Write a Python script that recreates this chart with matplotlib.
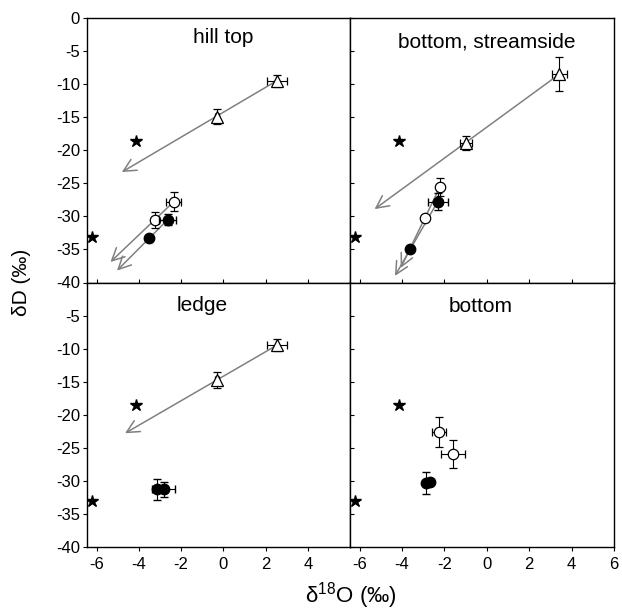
import matplotlib
matplotlib.use('Agg')
import matplotlib.pyplot as plt

plt.rcParams['font.family'] = ['Liberation Sans', 'DejaVu Sans']
plt.rcParams['axes.unicode_minus'] = False

# precipitation endmembers (stars), same in every panel
star_x = [-4.15, -6.2]
star_y = [-18.6, -33.1]

panel_names = ['hill top', 'bottom, streamside', 'ledge', 'bottom']
title_xy = [(0.0, -3.0), (0.0, -3.6), (-1.0, -3.5), (-0.3, -3.6)]

# triangles: x, y, xerr, yerr
tri_x = [[2.53, -0.3], [3.42, -0.99], [2.53, -0.3], []]
tri_y = [[-9.5, -14.9], [-8.5, -18.9], [-9.5, -14.7], []]
tri_xerr = [[0.47, 0.1], [0.36, 0.27], [0.47, 0.1], []]
tri_yerr = [[0.9, 1.2], [2.55, 1.0], [0.9, 1.2], []]

# open circles
oc_x = [[-2.35, -3.25], [-2.22, -2.93], [], [-2.24, -1.61]]
oc_y = [[-27.8, -30.5], [-25.6, -30.3], [], [-22.6, -25.9]]
oc_xerr = [[0.35, 0.1], [0.1, 0.1], [], [0.33, 0.57]]
oc_yerr = [[1.44, 1.2], [1.35, 0.3], [], [2.3, 2.1]]

# filled circles
fc_x = [[-2.63, -3.52], [-2.32, -3.64], [-3.12, -2.82], [-2.85, -2.7]]
fc_y = [[-30.5, -33.3], [-27.8, -35.0], [-31.3, -31.3], [-30.3, -30.2]]
fc_xerr = [[0.4, 0.1], [0.47, 0.1], [0.1, 0.53], [0.1, 0.1]]
fc_yerr = [[0.8, 0.3], [1.3, 0.3], [1.56, 1.1], [1.7, 0.3]]

# arrows: start -> tip
arrows = [
    [((2.53, -9.5), (-4.8, -23.3)), ((-2.35, -27.8), (-5.34, -36.9)), ((-2.63, -30.5), (-5.03, -38.2))],
    [((3.42, -8.5), (-5.29, -28.9)), ((-2.22, -25.6), (-4.06, -37.8)), ((-2.32, -27.8), (-4.33, -39.0))],
    [((2.53, -9.5), (-4.65, -22.8))],
    [],
]

xticks = [-6, -4, -2, 0, 2, 4, 6]
yticks = [0, -5, -10, -15, -20, -25, -30, -35, -40]

fig = plt.figure(figsize=(6.22, 6.11), dpi=100)
L, M, R = 87 / 622, 350 / 622, 614 / 622
T, C, B = 1 - 18 / 611, 1 - 282.5 / 611, 1 - 547 / 611
boxes = [[L, C, M - L, T - C], [M, C, R - M, T - C],
         [L, B, M - L, C - B], [M, B, R - M, C - B]]

for i, box in enumerate(boxes):
    ax = fig.add_axes(box)
    ax.set_xlim(-6.45, 6)
    ax.set_ylim(-40, 0)
    top = i < 2
    left = i % 2 == 0
    ax.set_xticks(xticks[:-1] if i == 2 else xticks)
    ax.set_yticks(yticks if top else yticks[1:])
    ax.tick_params(axis='x', direction='in' if top else 'out', length=3,
                   labelbottom=not top, labelsize=12, pad=4)
    ax.tick_params(axis='y', direction='out' if left else 'in', length=3,
                   labelleft=left, labelsize=12, pad=2)
    for s in ax.spines.values():
        s.set_linewidth(1.0)

    for (x0, y0), (x1, y1) in arrows[i]:
        ax.annotate('', xy=(x1, y1), xytext=(x0, y0),
                    arrowprops=dict(arrowstyle='->,head_length=0.5,head_width=0.25',
                                    color='#808080', lw=1.1,
                                    mutation_scale=18, shrinkA=0, shrinkB=0),
                    zorder=1)

    ax.plot(star_x, star_y, '*', color='black', ms=9, zorder=3)

    if tri_x[i]:
        ax.errorbar(tri_x[i], tri_y[i], xerr=tri_xerr[i], yerr=tri_yerr[i], fmt='^',
                    ms=8, mfc='white', mec='black', mew=0.9, ecolor='black',
                    elinewidth=0.8, capsize=3, zorder=4)
    if oc_x[i]:
        ax.errorbar(oc_x[i], oc_y[i], xerr=oc_xerr[i], yerr=oc_yerr[i], fmt='o',
                    ms=7.5, mfc='white', mec='black', mew=0.9, ecolor='black',
                    elinewidth=0.8, capsize=3, zorder=4)
    ax.errorbar(fc_x[i], fc_y[i], xerr=fc_xerr[i], yerr=fc_yerr[i], fmt='o',
                ms=7.5, mfc='black', mec='black', ecolor='black',
                elinewidth=0.8, capsize=3, zorder=5)

    tx, ty = title_xy[i]
    ax.text(tx, ty, panel_names[i], ha='center', va='center', fontsize=15)

fig.text((L + R) / 2, 0.025, r'$\mathregular{\delta^{18}}$O (‰)', ha='center',
         va='center', fontsize=16)
fig.text(0.035, (T + B) / 2, 'δD (‰)', ha='center', va='center',
         rotation=90, fontsize=15)

fig.savefig('out.png', dpi=100)
